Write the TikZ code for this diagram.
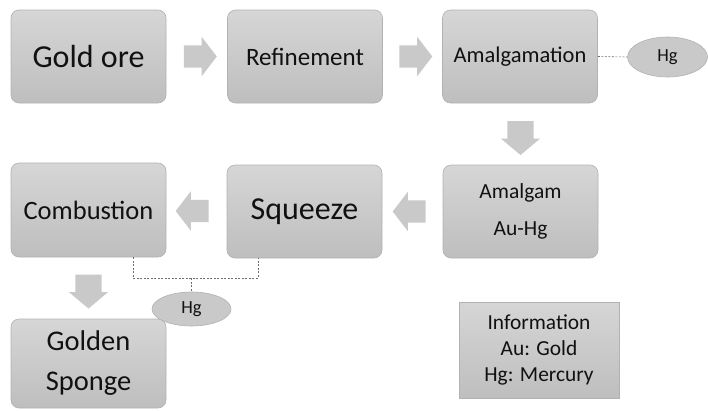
\documentclass[tikz,border=0pt]{standalone}
\usepackage{fontspec}
\setmainfont{Carlito}
\usetikzlibrary{shapes.geometric,shapes.arrows}
\definecolor{boxtop}{HTML}{D6D6D6}
\definecolor{boxbot}{HTML}{BEBEBE}
\definecolor{boxline}{HTML}{B2B2B2}
\definecolor{arrfill}{HTML}{C9C9C9}
\definecolor{txt}{HTML}{111111}
\definecolor{dashc}{HTML}{6E6E6E}
\tikzset{
  stepbox/.style={rectangle, rounded corners=8pt, draw=boxline, line width=0.6pt,
    top color=boxtop, bottom color=boxbot, minimum width=155pt, minimum height=93pt,
    inner sep=0pt, text=txt, align=center},
  infobox/.style={rectangle, draw=boxline, line width=0.6pt,
    top color=boxtop, bottom color=boxbot, minimum width=160pt, minimum height=96pt,
    inner sep=0pt, text=txt, align=center},
  hgell/.style={ellipse, draw=boxline, line width=0.6pt, fill=arrfill, inner sep=0pt,
    text=txt, font=\fontsize{18.5}{22}\selectfont},
  harrow/.style={single arrow, draw=none, fill=arrfill, minimum height=33pt,
    inner xsep=0pt, inner ysep=11pt, single arrow head extend=8.5pt,
    single arrow tip angle=105},
  varrow/.style={single arrow, draw=none, fill=arrfill, minimum height=34pt,
    inner xsep=0pt, inner ysep=13pt, single arrow head extend=6.5pt,
    single arrow tip angle=100, rotate=-90}
}
\begin{document}
\begin{tikzpicture}[x=1pt,y=-1pt]
\useasboundingbox (0,0) rectangle (708,410);
% boxes
\node[stepbox, font=\fontsize{32}{38}\selectfont] (gold) at (88.5,56.5) {Gold ore};
\node[stepbox, font=\fontsize{25}{30}\selectfont] (refine) at (305,56.5) {Refinement};
\node[stepbox, font=\fontsize{22.5}{27}\selectfont] (amalgamation) at (520,56.5) {Amalgamation};
\node[stepbox, font=\fontsize{21.5}{37}\selectfont] (amalgam) at (520.5,211.5) {Amalgam\\Au-Hg};
\node[stepbox, font=\fontsize{32}{38}\selectfont] (squeeze) at (304.5,211.5) {Squeeze};
\node[stepbox, font=\fontsize{26.5}{32}\selectfont, minimum height=94pt] (comb) at (88.5,210) {Combustion};
\node[stepbox, font=\fontsize{28.5}{40}\selectfont, minimum height=89pt] (sponge) at (88.5,363.5) {Golden\\Sponge};
\node[infobox, font=\fontsize{21.4}{26}\selectfont] (info) at (539,350) {Information\\Au: Gold\\Hg: Mercury};
% ellipses
\node[hgell, minimum width=80pt, minimum height=40pt] (hg1) at (667.5,57) {Hg};
\node[hgell, minimum width=79pt, minimum height=34pt] (hg2) at (191.5,309) {Hg};
% block arrows
\node[harrow] (a1) at (196,56.5) {};
\node[harrow] (a2) at (411.5,56.5) {};
\node[varrow] (a3) at (520.5,132.5) {};
\node[harrow, shape border rotate=180] (a4) at (413.5,211.5) {};
\node[harrow, shape border rotate=180] (a5) at (196.5,211) {};
\node[varrow] (a6) at (88.5,286) {};
% dashed connectors
\tikzset{dash line/.style={draw=dashc, line width=0.6pt, dash pattern=on 2pt off 1.5pt}}
\draw[dash line] (amalgamation.east) -- (hg1.west);
\coordinate (jl) at (133,278);
\coordinate (jr) at (258,278);
\coordinate (jm) at (191.5,278);
\draw[dash line] (comb.south -| jl) -- (jl) -- (jr) -- (squeeze.south -| jr);
\draw[dash line] (jm) -- (hg2.north);
\end{tikzpicture}
\end{document}
